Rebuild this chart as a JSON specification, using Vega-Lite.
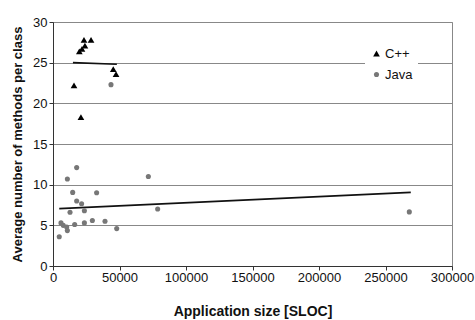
{
  "$schema": "https://vega.github.io/schema/vega-lite/v6.json",
  "width": 399,
  "height": 244,
  "autosize": {"type": "none"},
  "padding": {"left": 53, "top": 22, "right": 23, "bottom": 54},
  "background": "white",
  "config": {
    "font": "Liberation Sans",
    "view": {"stroke": "#888888", "strokeWidth": 1},
    "axis": {"labelFont": "Liberation Sans", "titleFont": "Liberation Sans", "labelFontSize": 13, "titleFontSize": 14, "labelColor": "#111", "titleColor": "#111", "domainColor": "#333", "tickColor": "#333", "labelFlush": false, "labelOverlap": false}
  },
  "datasets": {
    "pts": [
      {"lang": "C++", "sloc": 23300, "m": 27.8},
      {"lang": "C++", "sloc": 28600, "m": 27.8},
      {"lang": "C++", "sloc": 24000, "m": 27.1},
      {"lang": "C++", "sloc": 21800, "m": 26.7},
      {"lang": "C++", "sloc": 19800, "m": 26.4},
      {"lang": "C++", "sloc": 45300, "m": 24.2},
      {"lang": "C++", "sloc": 47400, "m": 23.6},
      {"lang": "C++", "sloc": 15800, "m": 22.2},
      {"lang": "C++", "sloc": 21000, "m": 18.3},
      {"lang": "Java", "sloc": 43600, "m": 22.3},
      {"lang": "Java", "sloc": 4700, "m": 3.6},
      {"lang": "Java", "sloc": 6000, "m": 5.3},
      {"lang": "Java", "sloc": 7700, "m": 5.0},
      {"lang": "Java", "sloc": 10300, "m": 4.8},
      {"lang": "Java", "sloc": 10800, "m": 4.35},
      {"lang": "Java", "sloc": 10800, "m": 10.7},
      {"lang": "Java", "sloc": 12800, "m": 6.6},
      {"lang": "Java", "sloc": 14800, "m": 9.05},
      {"lang": "Java", "sloc": 16300, "m": 5.1},
      {"lang": "Java", "sloc": 17800, "m": 8.0},
      {"lang": "Java", "sloc": 17800, "m": 12.1},
      {"lang": "Java", "sloc": 21500, "m": 7.65},
      {"lang": "Java", "sloc": 23600, "m": 6.8},
      {"lang": "Java", "sloc": 23600, "m": 5.3},
      {"lang": "Java", "sloc": 29600, "m": 5.6},
      {"lang": "Java", "sloc": 32800, "m": 9.0},
      {"lang": "Java", "sloc": 39100, "m": 5.5},
      {"lang": "Java", "sloc": 47900, "m": 4.6},
      {"lang": "Java", "sloc": 71700, "m": 11.0},
      {"lang": "Java", "sloc": 78700, "m": 7.0},
      {"lang": "Java", "sloc": 267900, "m": 6.65}
    ],
    "trend": [
      {"lang": "C++", "sloc": 15000, "m": 25.0},
      {"lang": "C++", "sloc": 48000, "m": 24.8},
      {"lang": "Java", "sloc": 4700, "m": 7.05},
      {"lang": "Java", "sloc": 269000, "m": 9.05}
    ]
  },
  "layer": [
    {
      "data": {"name": "trend"},
      "mark": {"type": "line", "color": "#111", "strokeWidth": 1.6},
      "encoding": {
        "x": {"field": "sloc", "type": "quantitative"},
        "y": {"field": "m", "type": "quantitative"},
        "detail": {"field": "lang"}
      }
    },
    {
      "data": {"name": "pts"},
      "mark": {"type": "point", "filled": true, "opacity": 1},
      "encoding": {
        "x": {
          "field": "sloc", "type": "quantitative",
          "scale": {"domain": [0, 300000], "nice": false},
          "axis": {"title": "Application size [SLOC]", "values": [0, 50000, 100000, 150000, 200000, 250000, 300000], "format": "d", "grid": false, "tickSize": 4, "labelPadding": 1, "titlePadding": 20}
        },
        "y": {
          "field": "m", "type": "quantitative",
          "scale": {"domain": [0, 30], "nice": false},
          "axis": {"title": "Average number of methods per class", "values": [0, 5, 10, 15, 20, 25, 30], "grid": true, "gridColor": "#888", "gridOpacity": 1, "tickSize": 4, "titleFontSize": 13, "titlePadding": 8}
        },
        "shape": {
          "field": "lang", "type": "nominal",
          "scale": {"domain": ["C++", "Java"], "range": ["triangle-up", "circle"]},
          "legend": {"title": null, "orient": "none", "legendX": 312, "legendY": 20, "fillColor": "white", "padding": 5, "labelFontSize": 13, "labelFont": "Liberation Sans", "labelColor": "#111", "symbolSize": 30, "rowPadding": 7, "labelOffset": 2}
        },
        "color": {
          "field": "lang", "type": "nominal",
          "scale": {"domain": ["C++", "Java"], "range": ["#000000", "#777777"]}
        },
        "size": {
          "field": "lang", "type": "nominal",
          "scale": {"domain": ["C++", "Java"], "range": [45, 26]}
        }
      }
    }
  ]
}
